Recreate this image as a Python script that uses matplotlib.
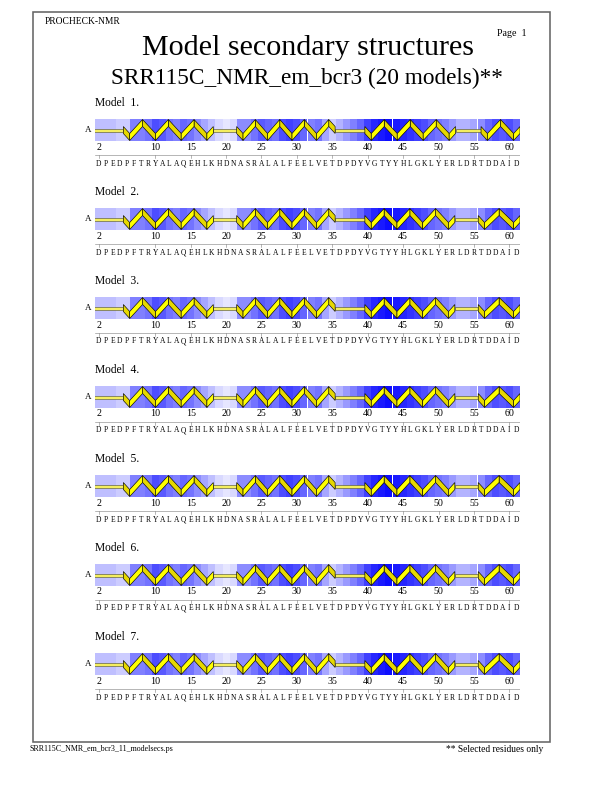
import numpy as np
import matplotlib
matplotlib.use("Agg")
import matplotlib.pyplot as plt
from matplotlib.patches import Rectangle, Polygon

plt.rcParams['font.family'] = ['Liberation Serif', 'DejaVu Serif']

# ---- data ----
first_res = 2
sequence = "DPEDPFTRYALAQEHLKHDNASRALALFEELVETDPDYVGTYYHLGKLYERLDRTDDAID"
tick_residues = [2, 10, 15, 20, 25, 30, 35, 40, 45, 50, 55, 60]
model_ids = [1, 2, 3, 4, 5, 6, 7]

# helix segments (start, end) in residue units, per model
helix_segments = {
    1: [(5.5, 18.2), (21.5, 35.4), (39.6, 52.4), (56.0, 61.5)],
    2: [(5.5, 18.2), (21.5, 35.4), (39.6, 52.3), (55.6, 61.5)],
    3: [(5.5, 18.2), (21.5, 35.4), (39.6, 52.3), (55.6, 61.5)],
    4: [(5.5, 18.2), (21.5, 35.4), (39.6, 52.3), (55.6, 61.5)],
    5: [(5.5, 18.2), (21.5, 35.4), (39.6, 52.3), (55.6, 61.5)],
    6: [(5.5, 18.2), (21.5, 35.4), (39.6, 52.3), (55.6, 61.5)],
    7: [(5.5, 18.2), (21.5, 35.4), (39.6, 52.3), (55.6, 61.5)],
}

# blue shading per residue (0 = white, 1 = full blue), residues 2..61
shade_m1 = [0.25, 0.25, 0.25, 0.2, 0.2, 0.5, 0.5, 0.55, 0.7, 0.65,
            0.55, 0.5, 0.6, 0.55, 0.45, 0.35, 0.25, 0.15, 0.1, 0.15,
            0.45, 0.45, 0.55, 0.65, 0.6, 0.55, 0.7, 0.75, 0.7, 0.6,
            0.5, 0.55, 0.35, 0.2, 0.3, 0.4, 0.5, 0.6, 0.75, 0.85,
            0.9, 0.95, 0.9, 0.85, 0.8, 0.75, 0.7, 0.6, 0.55, 0.5,
            0.4, 0.3, 0.3, 0.35, 0.45, 0.6, 0.7, 0.65, 0.7, 0.6]
shading = {k: shade_m1 for k in model_ids}

header_left = "PROCHECK-NMR"
page_label = "Page  1"
title = "Model secondary structures"
subtitle = "SRR115C_NMR_em_bcr3 (20 models)**"
footer_left = "SRR115C_NMR_em_bcr3_11_modelsecs.ps"
footer_right = "** Selected residues only"

# ---- figure ----
fig = plt.figure(figsize=(8.5, 11), dpi=72)
page = fig.add_axes([0, 0, 1, 1])
page.set_xlim(0, 612)
page.set_ylim(792, 0)
page.axis('off')

page.add_patch(Rectangle((33, 12), 517, 730, fill=False, edgecolor='#666666', lw=1.6))
page.text(45, 21, header_left, fontsize=9.5, va='center', ha='left')
page.text(527, 33, page_label, fontsize=10, va='center', ha='right')
page.text(308, 48, title, fontsize=30, va='center', ha='center')
page.text(307, 78, subtitle, fontsize=23.3, va='center', ha='center')
page.text(30, 749, footer_left, fontsize=8, va='center', ha='left')
page.text(543, 749, footer_right, fontsize=9.5, va='center', ha='right')

n_res = len(sequence)
residues = np.arange(first_res, first_res + n_res)
x_lo, x_hi = first_res - 0.5, first_res + n_res - 0.5

bar_top, bar_bot = 16, 38
y_mid = 27
rib = 7.0
y_up, y_down = bar_top + rib / 2 + 0.5, bar_bot - rib / 2 - 0.5
coil_h = 3.0
yellow = '#ffff00'


def draw_helix(ax, xs, xe):
    q = 0.9
    h = 1.8
    L = xe - xs
    n = max(int(round((L - 2 * q) / h)) + 1, 2)
    h = (L - 2 * q) / (n - 1)
    px = [xs] + [xs + q + i * h for i in range(n)] + [xe]
    py = [y_mid] + [y_down if i % 2 == 0 else y_up for i in range(n)] + [y_mid]
    upper = [(x, y - rib / 2) for x, y in zip(px, py)]
    lower = [(x, y + rib / 2) for x, y in zip(px, py)]
    # shaded underside of each stroke, then the ribbon on top
    for i in range(len(px) - 1):
        if py[i + 1] > py[i]:
            ax.add_patch(Polygon([upper[i], upper[i + 1], lower[i + 1], lower[i]],
                                 closed=True, facecolor='#e6d800', edgecolor='black',
                                 lw=0.6, zorder=3))
    for i in range(len(px) - 1):
        if py[i + 1] <= py[i]:
            ax.add_patch(Polygon([upper[i], upper[i + 1], lower[i + 1], lower[i]],
                                 closed=True, facecolor=yellow, edgecolor='black',
                                 lw=0.6, zorder=4))


def draw_coil(ax, xs, xe):
    ax.add_patch(Rectangle((xs, y_mid - coil_h / 2), xe - xs, coil_h,
                           facecolor='#f4ee60', edgecolor='#555533', lw=0.6, zorder=2))


for k, mid in enumerate(model_ids):
    y0 = 103 + 89 * k
    ax = fig.add_axes([95 / 612, 1 - (y0 + 70) / 792, 425 / 612, 80 / 792])
    ax.set_xlim(x_lo, x_hi)
    ax.set_ylim(70, -10)
    ax.axis('off')

    ax.text(x_lo, 0, f"Model  {mid}.", fontsize=11.5, va='center', ha='left')
    ax.text(x_lo - 0.5, y_mid, "A", fontsize=9, va='center', ha='right')

    # per-residue shading
    for r, v in zip(residues, shading[mid]):
        ax.add_patch(Rectangle((r - 0.5, bar_top), 1, bar_bot - bar_top,
                               facecolor=(1 - v, 1 - v, 1.0), edgecolor='none', zorder=1))

    # secondary structure
    segs = helix_segments[mid]
    prev = x_lo - 0.4
    for xs, xe in segs:
        if xs > prev:
            draw_coil(ax, prev, xs)
        draw_helix(ax, xs, xe)
        prev = xe
    if prev < x_hi:
        draw_coil(ax, prev, x_hi)

    # residue numbers
    for t in tick_residues:
        ax.text(t, 44, str(t), fontsize=10, va='center', ha='center')

    # separator line with ticks and sequence
    ax.plot([x_lo, x_hi], [52, 52], color='#888888', lw=0.6)
    for t in tick_residues:
        ax.plot([t, t], [52, 55], color='#888888', lw=0.6)
    for r, aa in zip(residues, sequence):
        ax.text(r, 60.5, aa, fontsize=7.5, va='center', ha='center')

fig.savefig("out.png", dpi=72)
